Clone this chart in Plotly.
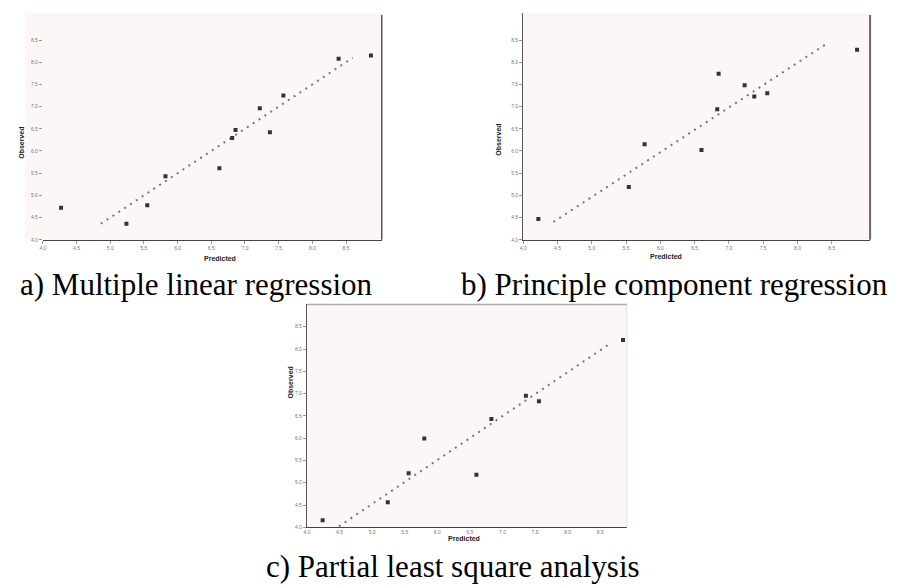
import plotly.graph_objects as go

W, H = 899, 585

# ---------------- data ----------------
tick_vals = [4.0, 4.5, 5.0, 5.5, 6.0, 6.5, 7.0, 7.5, 8.0, 8.5]

mlr_pred = [4.27, 5.24, 5.55, 5.82, 6.62, 6.81, 6.86, 7.22, 7.37, 7.57, 8.39, 8.87]
mlr_obs = [4.72, 4.36, 4.78, 5.43, 5.61, 6.29, 6.47, 6.96, 6.42, 7.25, 8.08, 8.15]
mlr_fit_x = [4.86, 8.60]
mlr_fit_y = [4.36, 8.10]

pcr_pred = [4.22, 5.54, 5.77, 6.60, 6.85, 6.83, 7.23, 7.37, 7.56, 8.87]
pcr_obs = [4.47, 5.19, 6.15, 6.02, 7.74, 6.94, 7.48, 7.23, 7.30, 8.28]
pcr_fit_x = [4.44, 8.40]
pcr_fit_y = [4.40, 8.39]

pls_pred = [4.24, 5.24, 5.56, 5.80, 6.60, 6.83, 7.36, 7.56, 8.85]
pls_obs = [4.16, 4.56, 5.21, 5.99, 5.18, 6.43, 6.95, 6.83, 8.20]
pls_fit_x = [4.49, 8.66]
pls_fit_y = [4.02, 8.13]

captions = ["a) Multiple linear regression",
            "b) Principle component regression",
            "c) Partial least square analysis"]
x_title = "Predicted"
y_title = "Observed"

# ---------------- helpers ----------------
def px(x):
    return x / W

def py(y):
    return 1 - y / H

PINK = "#fcf6f6"
fig = go.Figure()

panels = [
    # (xdata, ydata, fitx, fity, suffix, x0, x1, ytop, ybot, xmax, ymax)
    (mlr_pred, mlr_obs, mlr_fit_x, mlr_fit_y, "", 40, 380, 13, 241, 9.03, 9.11),
    (pcr_pred, pcr_obs, pcr_fit_x, pcr_fit_y, "2", 522, 870, 13, 241, 9.06, 9.11),
    (pls_pred, pls_obs, pls_fit_x, pls_fit_y, "3", 305, 626, 306, 530, 8.91, 9.0),
]

shapes = []
layout_axes = {}
for (xd, yd, fx, fy, s, x0, x1, yt, yb, xmax, ymax) in panels:
    xa, ya = "x" + s, "y" + s
    fig.add_trace(go.Scatter(x=fx, y=fy, mode="lines", xaxis=xa, yaxis=ya,
                             line=dict(color="#777777", width=2, dash="2px,5px"),
                             showlegend=False, hoverinfo="skip"))
    fig.add_trace(go.Scatter(x=xd, y=yd, mode="markers", xaxis=xa, yaxis=ya,
                             marker=dict(symbol="square", size=4, color="#333333"),
                             showlegend=False))
    common = dict(tickvals=tick_vals, tickformat=".1f",
                  tickcolor="#999", tickfont=dict(size=5, color="#777", family="Liberation Sans"),
                  showgrid=False, zeroline=False)
    layout_axes["xaxis" + s] = dict(domain=[px(x0), px(x1)], range=[4.0, xmax],
                                    anchor=ya, showline=True, linecolor="#444", linewidth=1.2,
                                    ticks="outside" if s != "3" else "", ticklen=3,
                                    **common)
    layout_axes["yaxis" + s] = dict(domain=[py(yb), py(yt)], range=[4.0, ymax],
                                    anchor=xa, showline=(s != ""), linecolor="#555",
                                    linewidth=1.2, ticks="outside", ticklen=3, **common)

# pink plot backgrounds
shapes.append(dict(type="rect", xref="paper", yref="paper", x0=px(22), x1=px(380),
                   y0=py(241), y1=py(13), fillcolor=PINK, line=dict(width=0), layer="below"))
shapes.append(dict(type="rect", xref="paper", yref="paper", x0=px(522), x1=px(870),
                   y0=py(241), y1=py(13), fillcolor=PINK, line=dict(width=0), layer="below"))
shapes.append(dict(type="rect", xref="paper", yref="paper", x0=px(305), x1=px(626),
                   y0=py(530), y1=py(306), fillcolor=PINK, line=dict(width=0), layer="below"))
# borders
shapes.append(dict(type="line", xref="paper", yref="paper", x0=px(380), x1=px(380),
                   y0=py(241), y1=py(15), line=dict(color="#555", width=1.5)))
shapes.append(dict(type="line", xref="paper", yref="paper", x0=px(870), x1=px(870),
                   y0=py(241), y1=py(15), line=dict(color="#666", width=2)))
shapes.append(dict(type="line", xref="paper", yref="paper", x0=px(305), x1=px(626),
                   y0=py(306), y1=py(306), line=dict(color="#aaa", width=1.5)))
shapes.append(dict(type="line", xref="paper", yref="paper", x0=px(626), x1=px(626),
                   y0=py(530), y1=py(306), line=dict(color="#e6e0e0", width=1)))

annotations = []
# axis titles
for (xc, yc) in [(200, 260), (683, 258), (463, 547)]:
    annotations.append(dict(x=px(xc), y=py(yc), xref="paper", yref="paper", showarrow=False,
                            text="<b>" + x_title + "</b>",
                            font=dict(size=7, color="#222", family="Liberation Sans")))
for (xc, yc) in [(13, 125), (497, 122), (283, 403)]:
    annotations.append(dict(x=px(xc), y=py(yc), xref="paper", yref="paper", showarrow=False,
                            text="<b>" + y_title + "</b>", textangle=-90,
                            font=dict(size=7, color="#222", family="Liberation Sans")))
# captions
cap_font = dict(size=31, color="black", family="Liberation Serif")
annotations.append(dict(x=px(373), y=py(286), xref="paper", yref="paper", showarrow=False,
                        xanchor="right", yanchor="middle", text=captions[0], font=cap_font))
annotations.append(dict(x=px(458), y=py(286), xref="paper", yref="paper", showarrow=False,
                        xanchor="left", yanchor="middle", text=captions[1], font=cap_font))
annotations.append(dict(x=px(262), y=py(569), xref="paper", yref="paper", showarrow=False,
                        xanchor="left", yanchor="middle", text=captions[2], font=cap_font))

fig.update_layout(width=W, height=H, margin=dict(l=0, r=0, t=0, b=0),
                  paper_bgcolor="white", plot_bgcolor="rgba(0,0,0,0)",
                  shapes=shapes, annotations=annotations, **layout_axes)

fig.write_html("out.html")
